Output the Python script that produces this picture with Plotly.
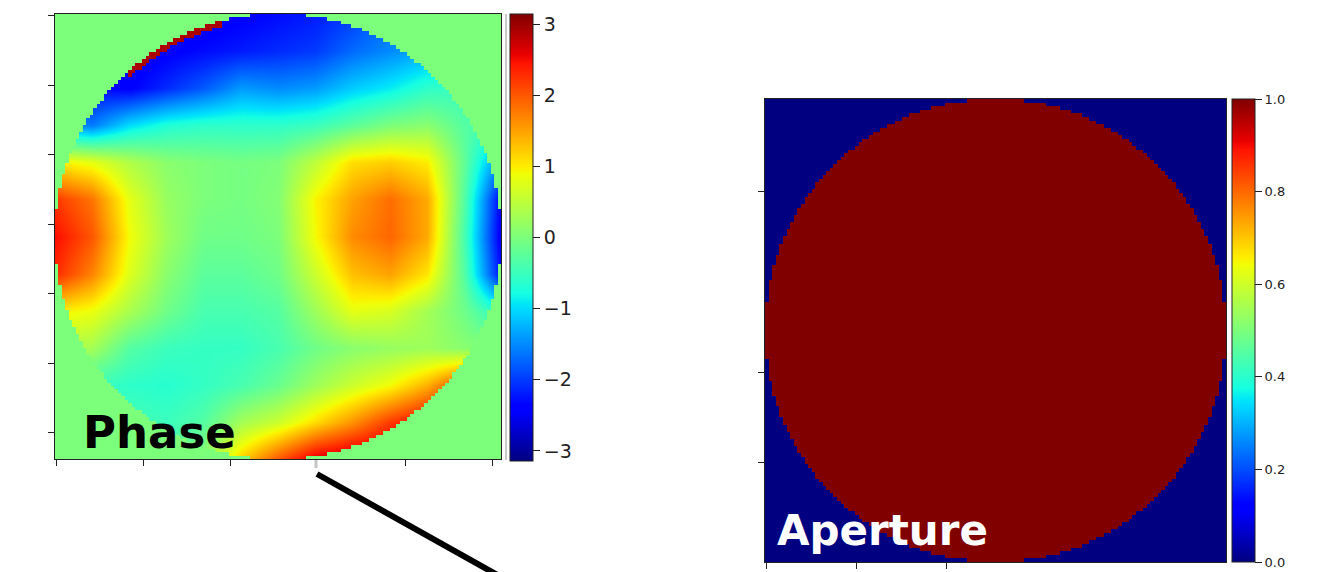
import numpy as np
import plotly.graph_objects as go

W, H = 1327, 572

# Wrapped pupil phase (rad) sampled on a 13 x 13 lattice that spans the
# 128-pixel frame edge to edge (row 0 = top of the frame).
PHASE_GRID = [
    [-2.8, -2.7, -2.6, -2.6, -2.5, -2.4, -2.3, -2.2, -2.0, -1.7, -1.5, -1.3, -1.2],
    [-2.5, -2.5, -2.5, -2.4, -2.3, -2.2, -2.1, -2.0, -1.7, -1.5, -1.3, -1.1, -1.0],
    [-2.2, -2.3, -2.4, -2.1, -1.8, -1.4, -1.5, -1.4, -1.1, -0.9, -0.6, -0.5, -0.5],
    [-1.4, -1.6, -1.0, -0.7, -0.6, -0.6, -0.6, -0.5, -0.25, 0.0, 0.1, -0.3, -0.4],
    [1.0, 0.8, 0.4, 0.1, 0.0, -0.05, 0.0, 0.5, 1.1, 1.2, 1.0, -0.2, -1.6],
    [2.2, 1.8, 0.8, 0.2, 0.0, -0.05, 0.05, 0.95, 1.5, 1.85, 1.45, -0.3, -2.4],
    [2.5, 2.0, 0.9, 0.25, -0.1, -0.1, 0.0, 0.9, 1.65, 1.9, 1.45, -0.4, -2.5],
    [2.3, 1.7, 0.75, 0.1, -0.25, -0.25, -0.1, 0.6, 1.3, 1.5, 1.05, -0.3, -2.3],
    [1.0, 0.85, 0.35, -0.1, -0.4, -0.4, -0.3, 0.25, 0.8, 0.7, 0.3, -0.1, -0.7],
    [0.4, 0.3, -0.3, -0.5, -0.55, -0.55, -0.4, -0.1, 0.1, 0.2, 0.25, 0.1, 0.0],
    [-0.5, -0.5, -0.6, -0.65, -0.55, -0.4, -0.15, 0.25, 0.6, 0.9, 1.4, 2.2, 2.4],
    [-0.4, -0.4, -0.4, -0.5, -0.3, 0.3, 0.6, 1.1, 1.6, 2.2, 2.6, 2.5, 2.4],
    [-0.4, -0.4, -0.4, -0.4, 0.2, 1.2, 2.0, 2.7, 2.9, 2.9, 2.8, 2.6, 2.4],
]

N_PIX = 128                 # frame size in pixels
PUPIL_RADIUS = 64.0         # pupil radius in pixels
BACKGROUND_PHASE = 0.0      # phase value outside the pupil
WRAP_SECTOR_DEG = (105, 133)  # rim sector where the phase wraps to +pi
WRAP_PHASE = 2.9
WRAP_RIM_WIDTH = 1.5

PHASE_TICKS = [-3, -2, -1, 0, 1, 2, 3]
APERTURE_TICKS = [0.0, 0.2, 0.4, 0.6, 0.8, 1.0]


def jet_colorscale():
    red = [(0, 0), (0.35, 0), (0.66, 1), (0.89, 1), (1, 0.5)]
    green = [(0, 0), (0.125, 0), (0.375, 1), (0.64, 1), (0.91, 0), (1, 0)]
    blue = [(0, 0.5), (0.11, 1), (0.34, 1), (0.65, 0), (1, 0)]
    stops = sorted({p for seg in (red, green, blue) for p, _ in seg})
    out = []
    for s in stops:
        rgb = [np.interp(s, [p for p, _ in seg], [v for _, v in seg]) for seg in (red, green, blue)]
        out.append([s, "rgb({:.0f},{:.0f},{:.0f})".format(*(255 * c for c in rgb))])
    return out


JET = jet_colorscale()

# pixel lattice of the frame
pix = np.arange(N_PIX)
yy, xx = np.meshgrid(pix, pix, indexing="ij")
c = (N_PIX - 1) / 2.0
rr = np.hypot(xx - c, yy - c)
theta = np.degrees(np.arctan2(-(yy - c), xx - c))
pupil = rr <= PUPIL_RADIUS
rim_wrap = pupil & (rr > PUPIL_RADIUS - WRAP_RIM_WIDTH) & \
    (theta >= WRAP_SECTOR_DEG[0]) & (theta <= WRAP_SECTOR_DEG[1])

overlay = np.where(~pupil, BACKGROUND_PHASE, np.where(rim_wrap, WRAP_PHASE, np.nan))
aperture = pupil.astype(float)

n_nodes = len(PHASE_GRID)
node_pos = [-0.5 + N_PIX * i / (n_nodes - 1) for i in range(n_nodes)]

fig = go.Figure()

fig.add_trace(go.Heatmap(
    z=PHASE_GRID, x=node_pos, y=node_pos, zsmooth="best",
    colorscale=JET, zmin=-np.pi, zmax=np.pi, hoverinfo="skip",
    colorbar=dict(
        x=510 / W, xanchor="left", xpad=0, y=1 - 237.5 / H, yanchor="middle",
        ypad=0, len=447 / H, lenmode="fraction", thickness=23,
        thicknessmode="pixels", outlinewidth=1, outlinecolor="#222",
        tickvals=PHASE_TICKS, ticks="outside", ticklen=7, tickwidth=1,
        tickcolor="#222",
        tickfont=dict(family="DejaVu Sans", size=19, color="#222"),
    ),
    xaxis="x", yaxis="y",
))
fig.add_trace(go.Heatmap(
    z=overlay, x=pix, y=pix, zsmooth=False, colorscale=JET,
    zmin=-np.pi, zmax=np.pi, showscale=False, hoverinfo="skip",
    xaxis="x", yaxis="y",
))
fig.add_trace(go.Heatmap(
    z=aperture, x=pix, y=pix, zsmooth=False, colorscale=JET,
    zmin=0, zmax=1, hoverinfo="skip",
    colorbar=dict(
        x=1232 / W, xanchor="left", xpad=0, y=1 - 330.5 / H, yanchor="middle",
        ypad=0, len=463 / H, lenmode="fraction", thickness=23,
        thicknessmode="pixels", outlinewidth=1, outlinecolor="#222",
        tickvals=APERTURE_TICKS, tickformat=".1f", ticks="outside",
        ticklen=7, tickwidth=1, tickcolor="#222",
        tickfont=dict(family="DejaVu Sans", size=13, color="#222"),
    ),
    xaxis="x2", yaxis="y2",
))

axis_style = dict(
    showline=True, linecolor="#222", linewidth=1, mirror=True,
    ticks="outside", ticklen=6, tickwidth=1, tickcolor="#222",
    showticklabels=False, showgrid=False, zeroline=False,
)
frame = [-0.5, N_PIX - 0.5]

fig.update_layout(
    width=W, height=H,
    margin=dict(l=0, r=0, t=0, b=0),
    paper_bgcolor="white", plot_bgcolor="white",
    showlegend=False,
    xaxis=dict(domain=[55 / W, 501 / W], range=frame,
               tickvals=[0, 25, 50, 100, 125], **axis_style),
    yaxis=dict(domain=[1 - 459 / H, 1 - 14 / H], range=frame[::-1],
               tickvals=[0, 20, 40, 60, 80, 100, 120], **axis_style),
    xaxis2=dict(domain=[765 / W, 1226 / W], range=frame,
                tickvals=[0, 25, 50], anchor="y2", **axis_style),
    yaxis2=dict(domain=[1 - 562 / H, 1 - 99 / H], range=frame[::-1],
                tickvals=[25, 75, 100], anchor="x2", **axis_style),
    annotations=[
        dict(text="<b>Phase</b>", x=81 / W, y=1 - 432 / H, xref="paper",
             yref="paper", xanchor="left", yanchor="middle", showarrow=False,
             font=dict(family="DejaVu Sans", size=45, color="black")),
        dict(text="<b>Aperture</b>", x=775 / W, y=1 - 530 / H, xref="paper",
             yref="paper", xanchor="left", yanchor="middle", showarrow=False,
             font=dict(family="DejaVu Sans", size=42, color="white")),
    ],
    shapes=[
        # connector leaving the phase panel
        dict(type="line", xref="paper", yref="paper",
             x0=317 / W, y0=1 - 474 / H, x1=560 / W, y1=1 - 610 / H,
             line=dict(color="black", width=6)),
        # faint separator between the phase frame and its colour bar
        dict(type="line", xref="paper", yref="paper",
             x0=506 / W, y0=1 - 14 / H, x1=506 / W, y1=1 - 460 / H,
             line=dict(color="#c8c8c8", width=2)),
        # faint tick under the phase frame
        dict(type="line", xref="paper", yref="paper",
             x0=316 / W, y0=1 - 460 / H, x1=316 / W, y1=1 - 468 / H,
             line=dict(color="#c4c4c4", width=3)),
    ],
)

fig.write_html("out.html")
